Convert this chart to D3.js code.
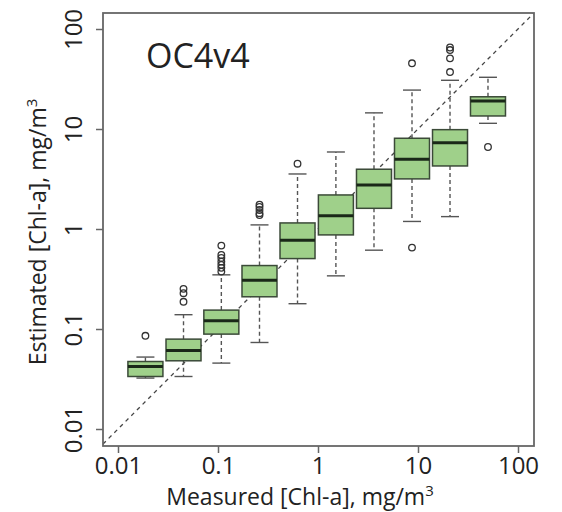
<!DOCTYPE html>
<html>
<head>
<meta charset="utf-8">
<script src="https://cdn.jsdelivr.net/npm/d3@7"></script>
<style>
  html, body { margin: 0; padding: 0; background: #fff; }
  svg { display: block; }
  text { font-family: "Open Sans", "Noto Sans", sans-serif; fill: #222; }
</style>
</head>
<body>
<svg id="chart" width="562" height="512"></svg>
<script>
// ---- data ----
const categories   = [0.0188, 0.0452, 0.108, 0.26, 0.624, 1.51, 3.63, 8.71, 20.9, 50.1]; // measured bin centres
const whiskerLow   = [0.0323, 0.0335, 0.0456, 0.0733, 0.179, 0.340, 0.614, 1.19, 1.33, 11.4];
const q1           = [0.0335, 0.0481, 0.0889, 0.210, 0.506, 0.873, 1.61, 3.17, 4.27, 13.5];
const medians      = [0.0422, 0.0610, 0.1207, 0.308, 0.773, 1.36, 2.76, 4.98, 7.29, 19.0];
const q3           = [0.0473, 0.0792, 0.1545, 0.431, 1.15, 2.19, 3.96, 8.08, 9.85, 21.0];
const whiskerHigh  = [0.0524, 0.139, 0.348, 1.099, 3.55, 5.89, 14.5, 24.5, 30.7, 32.9];
const outliers     = [
  [0.0855],
  [0.187, 0.228, 0.252],
  [0.375, 0.409, 0.438, 0.472, 0.514, 0.551, 0.682],
  [1.38, 1.44, 1.55, 1.66, 1.75],
  [4.5],
  [],
  [],
  [45.4, 0.652],
  [37.1, 50.9, 61.6, 65.3],
  [6.61]
];
const tickValues = [0.01, 0.1, 1, 10, 100];
const tickLabels = ["0.01", "0.1", "1", "10", "100"];
const title = "OC4v4";
const xTitle = "Measured [Chl-a], mg/m";
const yTitle = "Estimated [Chl-a], mg/m";

// ---- layout ----
const svg = d3.select("#chart");
const L = 103, R = 534, T = 13, B = 446;
const x = d3.scaleLog().domain([Math.pow(10, -2.15), Math.pow(10, 2.16)]).range([L, R]);
const y = d3.scaleLog().domain([Math.pow(10, -2.17), Math.pow(10, 2.16)]).range([B, T]);
const boxW = 35, capW = 18;
const frameColor = "#666";

svg.append("rect").attr("width", 562).attr("height", 512).attr("fill", "#fff");

svg.append("clipPath").attr("id", "plotclip")
  .append("rect").attr("x", L).attr("y", T).attr("width", R - L).attr("height", B - T);

// 1:1 line
svg.append("line")
  .attr("clip-path", "url(#plotclip)")
  .attr("x1", x(x.domain()[0])).attr("y1", y(x.domain()[0]))
  .attr("x2", x(x.domain()[1])).attr("y2", y(x.domain()[1]))
  .attr("stroke", "#444").attr("stroke-width", 1.3).attr("stroke-dasharray", "4,4");

// boxes
const g = svg.append("g");
categories.forEach((c, i) => {
  const cx = x(c);
  const gg = g.append("g");
  gg.append("line").attr("x1", cx).attr("x2", cx)
    .attr("y1", y(q3[i])).attr("y2", y(whiskerHigh[i]))
    .attr("stroke", "#555").attr("stroke-width", 1.4).attr("stroke-dasharray", "4,3");
  gg.append("line").attr("x1", cx).attr("x2", cx)
    .attr("y1", y(q1[i])).attr("y2", y(whiskerLow[i]))
    .attr("stroke", "#555").attr("stroke-width", 1.4).attr("stroke-dasharray", "4,3");
  [whiskerHigh[i], whiskerLow[i]].forEach(v => {
    gg.append("line").attr("x1", cx - capW / 2).attr("x2", cx + capW / 2)
      .attr("y1", y(v)).attr("y2", y(v))
      .attr("stroke", "#555").attr("stroke-width", 1.4);
  });
  gg.append("rect")
    .attr("x", cx - boxW / 2).attr("width", boxW)
    .attr("y", y(q3[i])).attr("height", y(q1[i]) - y(q3[i]))
    .attr("fill", "#9fd08a").attr("stroke", "#3b4a38").attr("stroke-width", 1.5);
  gg.append("line").attr("x1", cx - boxW / 2).attr("x2", cx + boxW / 2)
    .attr("y1", y(medians[i])).attr("y2", y(medians[i]))
    .attr("stroke", "#1a2818").attr("stroke-width", 3);
  outliers[i].forEach(v => {
    gg.append("circle").attr("cx", cx).attr("cy", y(v)).attr("r", 3.3)
      .attr("fill", "none").attr("stroke", "#333").attr("stroke-width", 1.3);
  });
});

// frame
svg.append("rect").attr("x", L).attr("y", T).attr("width", R - L).attr("height", B - T)
  .attr("fill", "none").attr("stroke", frameColor).attr("stroke-width", 1.8);

// x axis
const xAxis = d3.axisBottom(x).tickValues(tickValues).tickFormat((d, i) => tickLabels[i])
  .tickSizeInner(7).tickSizeOuter(0);
const xg = svg.append("g").attr("transform", `translate(0,${B})`).call(xAxis);
xg.select(".domain").remove();
xg.selectAll(".tick line").attr("stroke", frameColor).attr("stroke-width", 1.5);
xg.selectAll(".tick text").attr("font-size", 24).attr("fill", "#222")
  .attr("font-family", "'Open Sans', sans-serif").attr("dy", null).attr("y", 28);

// y axis
const yAxis = d3.axisLeft(y).tickValues(tickValues).tickFormat((d, i) => tickLabels[i])
  .tickSizeInner(7).tickSizeOuter(0);
const yg = svg.append("g").attr("transform", `translate(${L},0)`).call(yAxis);
yg.select(".domain").remove();
yg.selectAll(".tick line").attr("stroke", frameColor).attr("stroke-width", 1.5);
yg.selectAll(".tick text").attr("font-size", 24).attr("fill", "#222")
  .attr("font-family", "'Open Sans', sans-serif")
  .attr("x", null).attr("dy", null)
  .attr("text-anchor", "middle")
  .attr("transform", "translate(-21,0) rotate(-90)");

// titles
svg.append("text").attr("x", 146).attr("y", 68).attr("font-size", 34).attr("fill", "#000").text(title);

const xt = svg.append("text").attr("x", 300).attr("y", 505).attr("text-anchor", "middle")
  .attr("font-size", 23).attr("fill", "#333");
xt.append("tspan").text(xTitle);
xt.append("tspan").attr("font-size", 15).attr("dy", -9).text("3");

const yt = svg.append("text").attr("transform", "translate(46,232) rotate(-90)")
  .attr("text-anchor", "middle").attr("font-size", 23).attr("fill", "#333");
yt.append("tspan").text(yTitle);
yt.append("tspan").attr("font-size", 15).attr("dy", -9).text("3");
</script>
</body>
</html>
